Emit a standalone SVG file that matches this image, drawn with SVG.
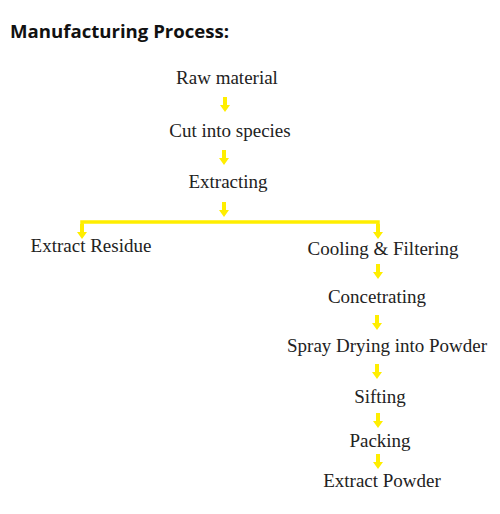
<svg xmlns="http://www.w3.org/2000/svg" width="500" height="514" viewBox="0 0 500 514">
<defs>
<style>
.t{font-family:'Liberation Serif','Times New Roman',serif;font-size:19px;fill:#222;text-anchor:middle}
.h{font-family:'Open Sans','Noto Sans',sans-serif;font-size:18.6px;font-weight:bold;fill:#111}
.c{stroke:#FFEE00;stroke-width:3.5;fill:none}
.a{fill:#FFEE00}
</style>
<g id="arrow"><path class="a" d="M-2,-9 H2 V-1 H5 L0,6 L-5,-1 H-2 Z"/></g>
</defs>
<rect width="500" height="514" fill="#fff"/>
<text class="h" x="10" y="38">Manufacturing Process:</text>
<g id="connectors">
<use href="#arrow" x="225" y="106"/>
<use href="#arrow" x="224" y="159"/>
<use href="#arrow" x="224" y="211"/>
<path class="c" d="M82,230 V222 H378 V230"/>
<use href="#arrow" x="82" y="233"/>
<use href="#arrow" x="378" y="233"/>
<use href="#arrow" x="378" y="273"/>
<use href="#arrow" x="377" y="324"/>
<use href="#arrow" x="377" y="373"/>
<use href="#arrow" x="378" y="422"/>
<use href="#arrow" x="378" y="463"/>
</g>
<g id="n1"><text class="t" x="227" y="84">Raw material</text></g>
<g id="n2"><text class="t" x="230" y="137">Cut into species</text></g>
<g id="n3"><text class="t" x="228" y="188">Extracting</text></g>
<g id="n4"><text class="t" x="91" y="252">Extract Residue</text></g>
<g id="n5"><text class="t" x="383" y="255">Cooling &amp; Filtering</text></g>
<g id="n6"><text class="t" x="377" y="303">Concetrating</text></g>
<g id="n7"><text class="t" x="387" y="352">Spray Drying into Powder</text></g>
<g id="n8"><text class="t" x="380" y="403">Sifting</text></g>
<g id="n9"><text class="t" x="380" y="447">Packing</text></g>
<g id="n10"><text class="t" x="382" y="487">Extract Powder</text></g>
</svg>
